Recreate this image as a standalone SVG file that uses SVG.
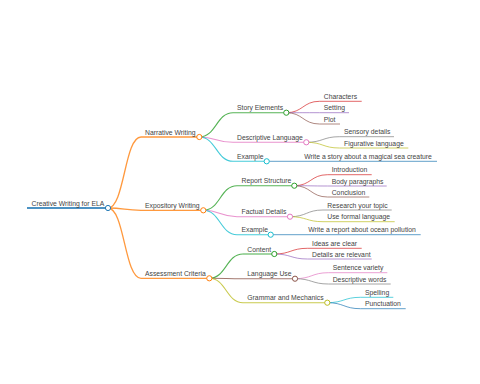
<svg xmlns="http://www.w3.org/2000/svg" width="480" height="384" viewBox="0 0 480 384">
<style>
text{font-family:"Liberation Sans",Arial,sans-serif;font-size:6.8px;fill:#444}
path{fill:none}
.l0{stroke-width:1.8;stroke-opacity:.8}.l1{stroke-width:1.3;stroke-opacity:.8}.l2{stroke-width:1.1;stroke-opacity:.8}.l3{stroke-width:1;stroke-opacity:.7}
circle{fill:#fff;stroke-width:1}
.c0{stroke:#1f77b4}.c1{stroke:#ff7f0e}.c2{stroke:#2ca02c}.c3{stroke:#d62728}.c4{stroke:#9467bd}
.c5{stroke:#8c564b}.c6{stroke:#e377c2}.c7{stroke:#7f7f7f}.c8{stroke:#bcbd22}.c9{stroke:#17becf}
</style>
<rect width="480" height="384" fill="#fff"/>
<g id="connectors">
<path class="l1 c1" d="M108,208 C124.5,208 124.5,137 141,137"/>
<path class="l1 c1" d="M108,208 C124.5,208 124.5,210.3 141,210.3"/>
<path class="l1 c1" d="M108,208 C124.5,208 124.5,278.3 141,278.3"/>
<path class="l2 c2" d="M199.3,137 C216.2,137 216.2,112.7 233,112.7"/>
<path class="l2 c6" d="M199.3,137 C216.2,137 216.2,142.3 233,142.3"/>
<path class="l2 c9" d="M199.3,137 C216.2,137 216.2,161.3 233,161.3"/>
<path class="l3 c3" d="M286.3,112.7 C302.9,112.7 302.9,101.3 319.5,101.3"/>
<path class="l3 c4" d="M286.3,112.7 C302.9,112.7 302.9,112.7 319.5,112.7"/>
<path class="l3 c5" d="M286.3,112.7 C302.9,112.7 302.9,124 319.5,124"/>
<path class="l3 c7" d="M306.3,142.3 C322.9,142.3 322.9,136.7 339.5,136.7"/>
<path class="l3 c8" d="M306.3,142.3 C322.9,142.3 322.9,148 339.5,148"/>
<path class="l3 c0" d="M266.7,161.3 L300,161.3"/>
<path class="l2 c2" d="M203.3,210.3 C220.2,210.3 220.2,185.7 237,185.7"/>
<path class="l2 c6" d="M203.3,210.3 C220.2,210.3 220.2,216.7 237,216.7"/>
<path class="l2 c9" d="M203.3,210.3 C220.2,210.3 220.2,234.7 237,234.7"/>
<path class="l3 c3" d="M294.3,185.7 C310.9,185.7 310.9,174.7 327.5,174.7"/>
<path class="l3 c4" d="M294.3,185.7 C310.9,185.7 310.9,186 327.5,186"/>
<path class="l3 c5" d="M294.3,185.7 C310.9,185.7 310.9,197 327.5,197"/>
<path class="l3 c7" d="M290,216.7 C306.5,216.7 306.5,210 323,210"/>
<path class="l3 c8" d="M290,216.7 C306.5,216.7 306.5,221.7 323,221.7"/>
<path class="l3 c0" d="M270.7,234.7 L304,234.7"/>
<path class="l2 c2" d="M209.3,278.3 C226.2,278.3 226.2,254 243,254"/>
<path class="l2 c5" d="M209.3,278.3 C226.2,278.3 226.2,278.7 243,278.7"/>
<path class="l2 c8" d="M209.3,278.3 C226.2,278.3 226.2,302.7 243,302.7"/>
<path class="l3 c3" d="M274.3,254 C290.9,254 290.9,248.3 307.5,248.3"/>
<path class="l3 c4" d="M274.3,254 C290.9,254 290.9,259 307.5,259"/>
<path class="l3 c6" d="M295,278.7 C311.8,278.7 311.8,272.7 328.5,272.7"/>
<path class="l3 c7" d="M295,278.7 C311.8,278.7 311.8,284 328.5,284"/>
<path class="l3 c9" d="M327.3,302.7 C343.9,302.7 343.9,297.3 360.5,297.3"/>
<path class="l3 c0" d="M327.3,302.7 C343.9,302.7 343.9,308.7 360.5,308.7"/>
</g>
<g id="root"><path class="l0 c0" d="M27,208 H108"/><circle class="c0" cx="108" cy="208" r="2.6"/><text x="31.5" y="205.5">Creative Writing for ELA</text></g>
<g id="narrative"><path class="l1 c1" d="M141,137 H199.3"/><circle class="c1" cx="199.3" cy="137" r="2.6"/><text x="145" y="134.5">Narrative Writing</text></g>
<g id="story-elements"><path class="l2 c2" d="M233,112.7 H286.3"/><circle class="c2" cx="286.3" cy="112.7" r="2.6"/><text x="237" y="110.2">Story Elements</text></g>
<g id="characters"><path class="l3 c3" d="M319.5,101.3 H361.7"/><text x="323.8" y="98.8">Characters</text></g>
<g id="setting"><path class="l3 c4" d="M319.5,112.7 H349"/><text x="323.8" y="110.2">Setting</text></g>
<g id="plot"><path class="l3 c5" d="M319.5,124 H340"/><text x="323.8" y="121.5">Plot</text></g>
<g id="descriptive-language"><path class="l2 c6" d="M233,142.3 H306.3"/><circle class="c6" cx="306.3" cy="142.3" r="2.6"/><text x="237" y="139.8">Descriptive Language</text></g>
<g id="sensory"><path class="l3 c7" d="M339.5,136.7 H394"/><text x="344" y="134.2">Sensory details</text></g>
<g id="figurative"><path class="l3 c8" d="M339.5,148 H408.3"/><text x="344" y="145.5">Figurative language</text></g>
<g id="example1"><path class="l2 c9" d="M233,161.3 H266.7"/><circle class="c9" cx="266.7" cy="161.3" r="2.6"/><text x="237" y="158.8">Example</text></g>
<g id="write-story"><path class="l3 c0" d="M300,161.3 H437"/><text x="304.3" y="158.8">Write a story about a magical sea creature</text></g>
<g id="expository"><path class="l1 c1" d="M141,210.3 H203.3"/><circle class="c1" cx="203.3" cy="210.3" r="2.6"/><text x="145" y="207.8">Expository Writing</text></g>
<g id="report-structure"><path class="l2 c2" d="M237,185.7 H294.3"/><circle class="c2" cx="294.3" cy="185.7" r="2.6"/><text x="241.5" y="183.2">Report Structure</text></g>
<g id="introduction"><path class="l3 c3" d="M327.5,174.7 H371.7"/><text x="331.7" y="172.2">Introduction</text></g>
<g id="body"><path class="l3 c4" d="M327.5,186 H386.7"/><text x="331.7" y="183.5">Body paragraphs</text></g>
<g id="conclusion"><path class="l3 c5" d="M327.5,197 H369.3"/><text x="331.7" y="194.5">Conclusion</text></g>
<g id="factual"><path class="l2 c6" d="M237,216.7 H290"/><circle class="c6" cx="290" cy="216.7" r="2.6"/><text x="241.5" y="214.2">Factual Details</text></g>
<g id="research"><path class="l3 c7" d="M323,210 H391.7"/><text x="327.3" y="207.5">Research your topic</text></g>
<g id="formal"><path class="l3 c8" d="M323,221.7 H394.7"/><text x="327.3" y="219.2">Use formal language</text></g>
<g id="example2"><path class="l2 c9" d="M237,234.7 H270.7"/><circle class="c9" cx="270.7" cy="234.7" r="2.6"/><text x="241.5" y="232.2">Example</text></g>
<g id="write-report"><path class="l3 c0" d="M304,234.7 H420.7"/><text x="308.3" y="232.2">Write a report about ocean pollution</text></g>
<g id="assessment"><path class="l1 c1" d="M141,278.3 H209.3"/><circle class="c1" cx="209.3" cy="278.3" r="2.6"/><text x="145" y="275.8">Assessment Criteria</text></g>
<g id="content"><path class="l2 c2" d="M243,254 H274.3"/><circle class="c2" cx="274.3" cy="254" r="2.6"/><text x="247.3" y="251.5">Content</text></g>
<g id="ideas"><path class="l3 c3" d="M307.5,248.3 H361.7"/><text x="312" y="245.8">Ideas are clear</text></g>
<g id="details"><path class="l3 c4" d="M307.5,259 H371.7"/><text x="312" y="256.5">Details are relevant</text></g>
<g id="language-use"><path class="l2 c5" d="M243,278.7 H295"/><circle class="c5" cx="295" cy="278.7" r="2.6"/><text x="247.3" y="276.2">Language Use</text></g>
<g id="sentence"><path class="l3 c6" d="M328.5,272.7 H387.3"/><text x="332.7" y="270.2">Sentence variety</text></g>
<g id="descriptive-words"><path class="l3 c7" d="M328.5,284 H390.7"/><text x="332.7" y="281.5">Descriptive words</text></g>
<g id="grammar"><path class="l2 c8" d="M243,302.7 H327.3"/><circle class="c8" cx="327.3" cy="302.7" r="2.6"/><text x="247.3" y="300.2">Grammar and Mechanics</text></g>
<g id="spelling"><path class="l3 c9" d="M360.5,297.3 H393.3"/><text x="365" y="294.8">Spelling</text></g>
<g id="punctuation"><path class="l3 c0" d="M360.5,308.7 H405.7"/><text x="365" y="306.2">Punctuation</text></g>
</svg>
